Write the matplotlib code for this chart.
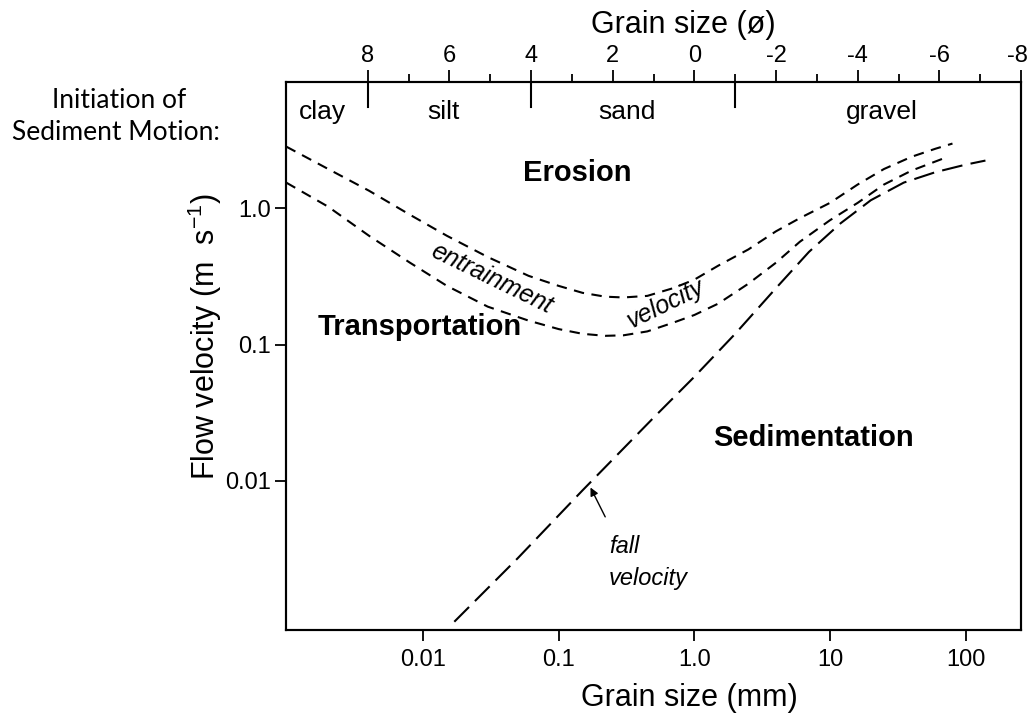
import matplotlib.pyplot as plt
import matplotlib.transforms as mtrans
from matplotlib.ticker import NullFormatter

# grain size (mm) vs flow velocity (m/s)
x_upper = [0.00098, 0.002, 0.004, 0.008, 0.015, 0.03, 0.06, 0.1, 0.15, 0.22, 0.3,
           0.45, 0.7, 1.0, 1.5, 2.5, 4, 6, 10, 16, 25, 40, 60, 80]
v_upper = [2.85, 1.95, 1.35, 0.9, 0.63, 0.44, 0.32, 0.27, 0.24, 0.225, 0.222,
           0.228, 0.26, 0.3, 0.38, 0.5, 0.68, 0.85, 1.1, 1.5, 1.95, 2.4, 2.75, 3.0]

x_lower = [0.00098, 0.002, 0.004, 0.008, 0.015, 0.03, 0.06, 0.1, 0.15, 0.22, 0.3,
           0.45, 0.7, 1.0, 1.5, 2.5, 4, 6, 10, 16, 25, 40, 70]
v_lower = [1.55, 1.03, 0.63, 0.4, 0.27, 0.19, 0.15, 0.13, 0.12, 0.116, 0.117,
           0.125, 0.145, 0.165, 0.2, 0.28, 0.4, 0.57, 0.82, 1.1, 1.5, 1.9, 2.35]

x_fall = [0.017, 0.05, 0.15, 0.5, 1.0, 2.0, 4.0, 7.0, 12, 20, 35, 60, 100, 140]
v_fall = [0.00092, 0.0027, 0.0085, 0.029, 0.058, 0.12, 0.26, 0.48, 0.78, 1.15,
          1.55, 1.85, 2.1, 2.25]

mm_ticks = [0.01, 0.1, 1.0, 10, 100]
mm_labels = ['0.01', '0.1', '1.0', '10', '100']
vel_ticks = [0.01, 0.1, 1.0]
vel_labels = ['0.01', '0.1', '1.0']
phi_major = [8, 6, 4, 2, 0, -2, -4, -6, -8]
phi_minor = [7, 5, 3, 1, -1, -3, -5, -7]
class_bounds = [8, 4, -1]  # phi
class_names = ['clay', 'silt', 'sand', 'gravel']
class_phi = [9.1, 6.15, 1.64, -4.6]

plt.rcParams['font.family'] = 'Liberation Sans'

fig = plt.figure(figsize=(10.29, 7.15), dpi=100)
ax = fig.add_axes([286 / 1029, 1 - 630 / 715, (1021 - 286) / 1029, (630 - 82) / 715])
ax.set_xscale('log')
ax.set_yscale('log')
xlim = (2.0 ** -10, 2.0 ** 8)
ax.set_xlim(xlim)
ax.set_ylim(0.0008, 8.5)

lw = 1.5
ax.plot(x_upper, v_upper, color='black', lw=lw, dashes=(5, 3.6))
ax.plot(x_lower, v_lower, color='black', lw=lw, dashes=(5, 3.6))
ax.plot(x_fall, v_fall, color='black', lw=lw, dashes=(10, 4))

for s in ax.spines.values():
    s.set_linewidth(1.5)

ax.set_xticks(mm_ticks)
ax.set_xticklabels(mm_labels)
ax.set_yticks(vel_ticks)
ax.set_yticklabels(vel_labels)
ax.minorticks_off()
ax.tick_params(direction='out', length=8, width=1.3, labelsize=17)
ax.tick_params(axis='x', pad=6)
ax.tick_params(axis='y', pad=3)

ax.set_xlabel('Grain size (mm)', fontsize=22)
ax.xaxis.set_label_coords(0.549, -0.097)
ax.set_ylabel('Flow velocity (m  s$^{\\mathregular{-1}}$)', fontsize=22)
ax.yaxis.set_label_coords(-0.085, 0.535)

# phi scale on top
top = ax.twiny()
top.set_xscale('log')
top.set_xlim(xlim)
top.set_xticks([2.0 ** (-p) for p in phi_major])
top.set_xticklabels([str(p) for p in phi_major])
top.set_xticks([2.0 ** (-p) for p in phi_minor], minor=True)
top.xaxis.set_minor_formatter(NullFormatter())
top.tick_params(which='major', direction='out', length=9, width=1.3, labelsize=17, pad=2)
top.tick_params(which='minor', direction='out', length=6, width=1.3)
top.set_xlabel('Grain size (ø)', fontsize=22)
top.xaxis.set_label_coords(0.54, 1.09)
for s in top.spines.values():
    s.set_linewidth(1.5)
# keep the last phi label inside the picture
last = top.get_xticklabels()[-1]
last.set_transform(last.get_transform() +
                   mtrans.ScaledTranslation(-0.04, 0, fig.dpi_scale_trans))

# size class boundaries and names
for b in class_bounds:
    ax.plot([2.0 ** (-b)] * 2, [1.0, 0.955], color='black', lw=1.5,
            transform=ax.get_xaxis_transform())
for name, p in zip(class_names, class_phi):
    ax.text(2.0 ** (-p), 0.968, name, fontsize=19, ha='center', va='top',
            transform=ax.get_xaxis_transform())

# region labels
ax.text(0.138, 1.81, 'Erosion', fontsize=21, fontweight='bold', ha='center', va='center')
ax.text(0.0095, 0.135, 'Transportation', fontsize=21, fontweight='bold', ha='center',
        va='center')
ax.text(7.6, 0.0207, 'Sedimentation', fontsize=21, fontweight='bold', ha='center',
        va='center')

ax.text(0.032, 0.305, 'entrainment', fontsize=18, style='italic', rotation=-26,
        ha='center', va='center')
ax.text(0.62, 0.2, 'velocity', fontsize=18, style='italic', rotation=26,
        ha='center', va='center')

ax.text(0.235, 0.0033, 'fall', fontsize=17, style='italic', ha='left', va='center')
ax.text(0.235, 0.0019, 'velocity', fontsize=17, style='italic', ha='left', va='center')
ax.annotate('', xy=(0.168, 0.0093), xytext=(0.225, 0.0052),
            arrowprops=dict(arrowstyle='-|>', color='black', lw=1.0, mutation_scale=12))

fig.text(119 / 1029, 1 - 101 / 715, 'Initiation of', fontsize=19, family='Lato',
         ha='center', va='center')
fig.text(116 / 1029, 1 - 133 / 715, 'Sediment Motion:', fontsize=19, family='Lato',
         ha='center', va='center')

fig.savefig('out.png', dpi=100)
